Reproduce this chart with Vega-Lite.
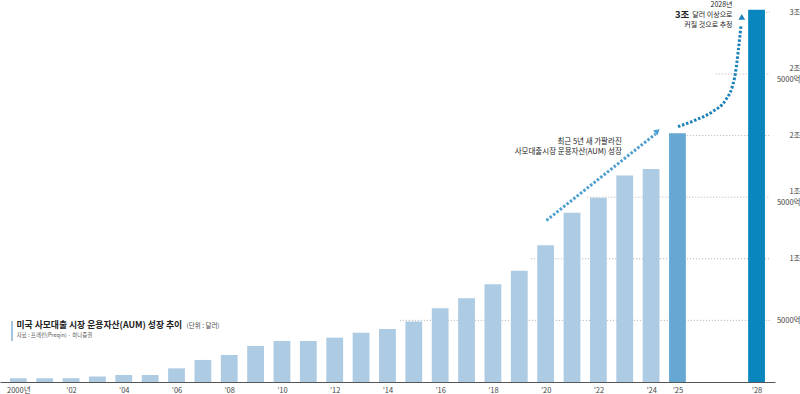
{
  "$schema": "https://vega.github.io/schema/vega-lite/v6.json",
  "width": 775,
  "height": 382,
  "autosize": "none",
  "padding": {"left": 0, "top": 0, "right": 25, "bottom": 12},
  "background": "white",
  "config": {"view": {"stroke": null}, "font": "Noto Sans CJK KR"},
  "datasets": {
    "aum": [
      {"year": 2000, "aum": 30, "group": "a"},
      {"year": 2001, "aum": 30, "group": "a"},
      {"year": 2002, "aum": 30, "group": "a"},
      {"year": 2003, "aum": 45, "group": "a"},
      {"year": 2004, "aum": 57, "group": "a"},
      {"year": 2005, "aum": 57, "group": "a"},
      {"year": 2006, "aum": 111, "group": "a"},
      {"year": 2007, "aum": 179, "group": "a"},
      {"year": 2008, "aum": 219, "group": "a"},
      {"year": 2009, "aum": 292, "group": "a"},
      {"year": 2010, "aum": 333, "group": "a"},
      {"year": 2011, "aum": 333, "group": "a"},
      {"year": 2012, "aum": 360, "group": "a"},
      {"year": 2013, "aum": 400, "group": "a"},
      {"year": 2014, "aum": 430, "group": "a"},
      {"year": 2015, "aum": 490, "group": "a"},
      {"year": 2016, "aum": 598, "group": "a"},
      {"year": 2017, "aum": 679, "group": "a"},
      {"year": 2018, "aum": 793, "group": "a"},
      {"year": 2019, "aum": 903, "group": "a"},
      {"year": 2020, "aum": 1110, "group": "a"},
      {"year": 2021, "aum": 1374, "group": "a"},
      {"year": 2022, "aum": 1496, "group": "a"},
      {"year": 2023, "aum": 1675, "group": "a"},
      {"year": 2024, "aum": 1729, "group": "a"},
      {"year": 2025, "aum": 2019, "group": "b"},
      {"year": 2028, "aum": 3020, "group": "c"}
    ],
    "grid": [
      {"aum": 500, "year": 2014.47},
      {"aum": 1000, "year": 2019.45},
      {"aum": 1500, "year": 2021.58},
      {"aum": 2000, "year": 2024.69},
      {"aum": 2500, "year": 2026.45},
      {"aum": 3000, "year": 2028.14}
    ],
    "arrow1": [
      {"year": 2020.03, "aum": 1311},
      {"year": 2024.17, "aum": 2013}
    ],
    "arrow2": [
      {"year": 2025.02, "aum": 2072},
      {"year": 2025.70, "aum": 2127},
      {"year": 2026.33, "aum": 2194},
      {"year": 2026.83, "aum": 2289},
      {"year": 2027.08, "aum": 2397},
      {"year": 2027.20, "aum": 2508},
      {"year": 2027.31, "aum": 2695},
      {"year": 2027.41, "aum": 2890}
    ]
  },
  "encoding": {
    "x": {
      "field": "year", "type": "quantitative",
      "scale": {"domain": [1999.495, 2028.51], "nice": false, "zero": false},
      "axis": {
        "title": null, "values": [2000, 2002, 2004, 2006, 2008, 2010, 2012, 2014, 2016, 2018, 2020, 2022, 2024, 2025, 2028],
        "labelExpr": "datum.value == 2000 ? '2000년' : '’' + slice(toString(datum.value), 2)",
        "ticks": false, "grid": false, "domain": true, "domainColor": "#555555", "domainWidth": 1,
        "labelFontSize": 7.5, "labelColor": "#444444", "labelPadding": 4, "labelOverlap": false, "labelFlush": false
      }
    },
    "y": {
      "field": "aum", "type": "quantitative",
      "scale": {"domain": [0, 3100], "nice": false},
      "axis": {
        "title": null, "orient": "right", "values": [500, 1000, 1500, 2000, 2500, 3000],
        "labelExpr": "datum.value == 500 ? '5000억' : datum.value == 1000 ? '1조' : datum.value == 1500 ? ['1조', '5000억'] : datum.value == 2000 ? '2조' : datum.value == 2500 ? ['2조', '5000억'] : '3조'",
        "ticks": false, "grid": false, "domain": false,
        "labelAlign": "right", "labelBaseline": "middle", "labelPadding": 25,
        "labelOffset": {"condition": {"test": "datum.value == 1500 || datum.value == 2500", "value": -5.5}, "value": 0},
        "labelFontSize": 7.5, "labelColor": "#444444", "labelLineHeight": 11
      }
    }
  },
  "layer": [
    {
      "data": {"name": "grid"},
      "mark": {"type": "rule", "color": "#9a9a9a", "strokeWidth": 0.8, "strokeDash": [1, 2]},
      "encoding": {"x2": {"datum": 2028.51}}
    },
    {
      "data": {"name": "aum"},
      "mark": {"type": "bar", "width": 16.8},
      "encoding": {
        "color": {"field": "group", "type": "nominal", "scale": {"domain": ["a", "b", "c"], "range": ["#aecbe4", "#66a8d3", "#0a86be"]}, "legend": null}
      }
    },
    {
      "data": {"name": "arrow1"},
      "mark": {"type": "line", "color": "#4f9fd0", "strokeWidth": 3, "strokeDash": [2.5, 1.8]},
      "encoding": {}
    },
    {
      "data": {"name": "arrow2"},
      "mark": {"type": "line", "color": "#1d82b9", "strokeWidth": 3, "strokeDash": [2.5, 1.8], "interpolate": "monotone"},
      "encoding": {}
    },
    {
      "data": {"values": [{"year": 2024.24, "aum": 2037}]},
      "mark": {"type": "point", "shape": "triangle-up", "filled": true, "size": 45, "angle": 51, "color": "#4f9fd0", "opacity": 1}
    },
    {
      "data": {"values": [{"year": 2027.44, "aum": 2963}]},
      "mark": {"type": "point", "shape": "triangle-up", "filled": true, "size": 45, "color": "#1d82b9", "opacity": 1}
    },
    {
      "data": {"values": [{"year": 1999.76, "aum": 495, "aum2": 333}]},
      "mark": {"type": "rule", "color": "#a3c4de", "strokeWidth": 2},
      "encoding": {"y2": {"field": "aum2"}}
    },
    {
      "data": {"values": [{"year": 1999.93, "aum": 463, "text": "미국 사모대출 시장 운용자산(AUM) 성장 추이"}]},
      "mark": {"type": "text", "align": "left", "baseline": "middle", "fontSize": 8.8, "fontWeight": "bold", "color": "#222222"},
      "encoding": {"text": {"field": "text"}}
    },
    {
      "data": {"values": [{"year": 2006.38, "aum": 458, "text": "(단위 : 달러)"}]},
      "mark": {"type": "text", "align": "left", "baseline": "middle", "fontSize": 6.5, "color": "#444444"},
      "encoding": {"text": {"field": "text"}}
    },
    {
      "data": {"values": [{"year": 1999.94, "aum": 381, "text": "자료 : 프레킨(Preqin) · 하나증권"}]},
      "mark": {"type": "text", "align": "left", "baseline": "middle", "fontSize": 5.5, "color": "#555555"},
      "encoding": {"text": {"field": "text"}}
    },
    {
      "data": {"values": [
        {"year": 2022.89, "aum": 1944, "text": "최근 5년 새 가팔라진"},
        {"year": 2022.89, "aum": 1863, "text": "사모대출시장 운용자산(AUM) 성장"}
      ]},
      "mark": {"type": "text", "align": "right", "baseline": "middle", "fontSize": 7.5, "color": "#222222"},
      "encoding": {"text": {"field": "text"}}
    },
    {
      "data": {"values": [
        {"year": 2027.09, "aum": 3056, "text": "2028년"},
        {"year": 2027.09, "aum": 2979, "text": "달러 이상으로"},
        {"year": 2027.09, "aum": 2894, "text": "커질 것으로 추정"}
      ]},
      "mark": {"type": "text", "align": "right", "baseline": "middle", "fontSize": 7, "color": "#222222"},
      "encoding": {"text": {"field": "text"}}
    },
    {
      "data": {"values": [{"year": 2025.45, "aum": 2979, "text": "3조"}]},
      "mark": {"type": "text", "align": "right", "baseline": "middle", "fontSize": 9.5, "fontWeight": "bold", "color": "#222222"},
      "encoding": {"text": {"field": "text"}}
    }
  ]
}
